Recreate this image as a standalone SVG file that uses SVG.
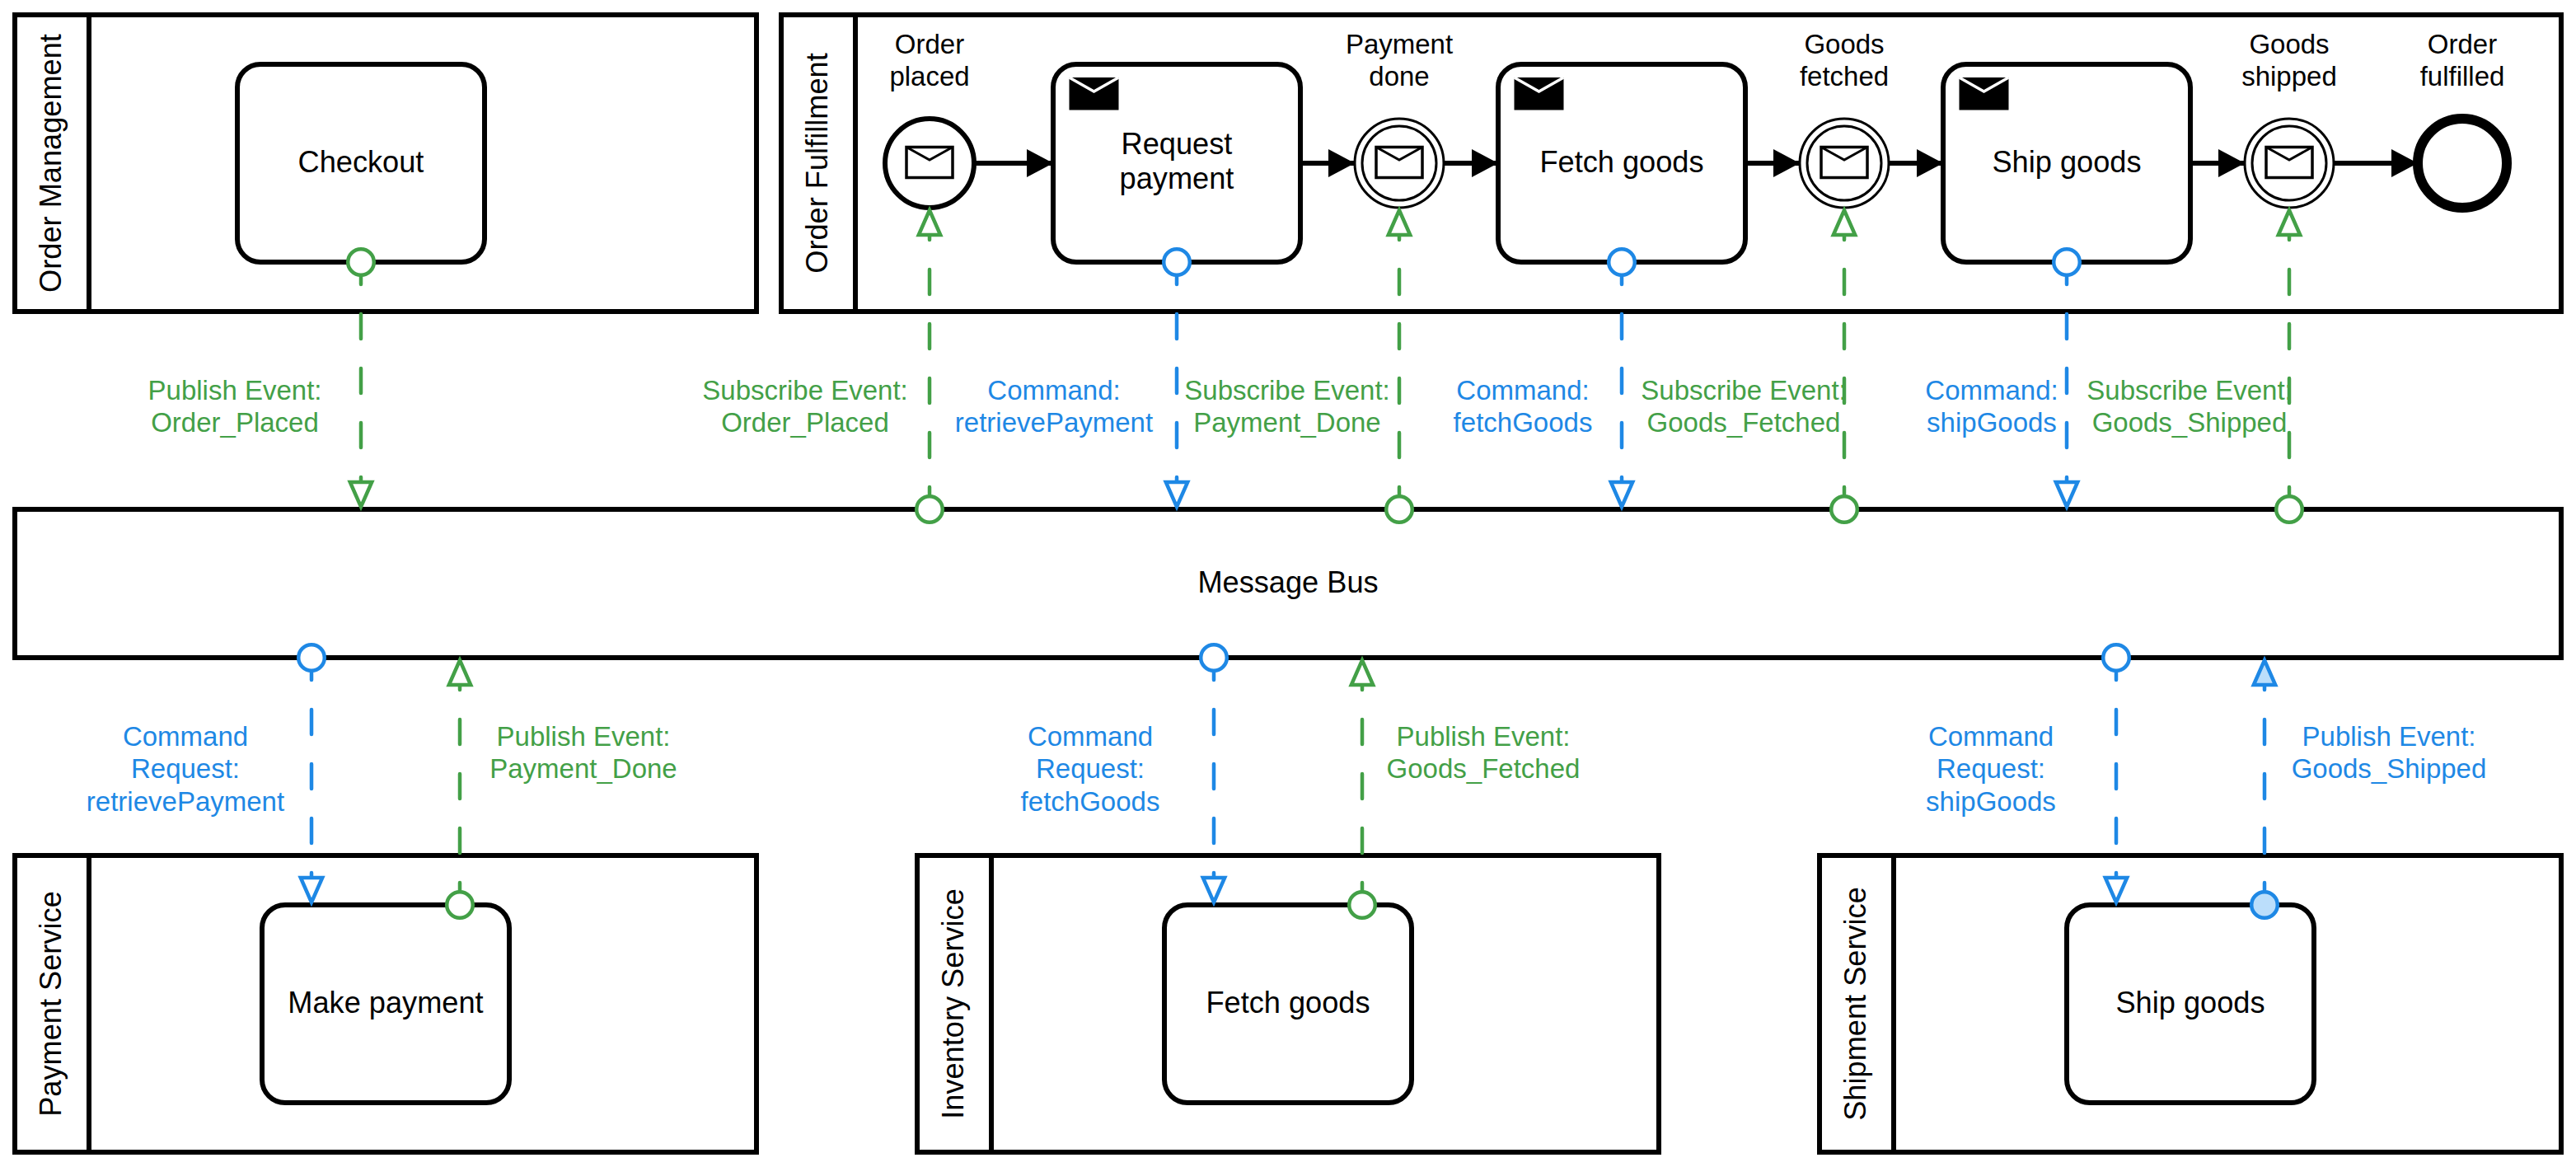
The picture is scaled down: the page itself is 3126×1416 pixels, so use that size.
<svg xmlns="http://www.w3.org/2000/svg" width="3126" height="1416" viewBox="0 0 3126 1416">
<style>
text{font-family:"Liberation Sans",Arial,sans-serif;text-anchor:middle;fill:#000}
.t36{font-size:36.2px}
.t32{font-size:33px}
.g{fill:#43a047}
.b{fill:#1e88e5}
.box{fill:#fff;stroke:#000;stroke-width:6}
.div{fill:none;stroke:#000;stroke-width:6}
.task{fill:#fff;stroke:#000;stroke-width:6}
.ring{fill:#fff;stroke:#000;stroke-width:3}
.flow{fill:none;stroke:#000;stroke-width:6;marker-end:url(#solid)}
.dg,.db{fill:none;stroke-width:4.5;stroke-linecap:round;stroke-dasharray:30 36;stroke-dashoffset:3}
.dg{stroke:#43a047}
.db{stroke:#1e88e5}
</style>
<defs>
<marker id="solid" markerUnits="userSpaceOnUse" markerWidth="40" markerHeight="40" refX="32" refY="17" orient="auto" overflow="visible"><polygon points="0,0 32,17 0,34" fill="#000"/></marker>
<marker id="tri-g" markerUnits="userSpaceOnUse" markerWidth="40" markerHeight="40" refX="0" refY="0" orient="auto" overflow="visible"><polygon points="-30,-13.2 -30,13.2 0,0" fill="#fff" stroke="#43a047" stroke-width="4.5"/></marker>
<marker id="tri-b" markerUnits="userSpaceOnUse" markerWidth="40" markerHeight="40" refX="0" refY="0" orient="auto" overflow="visible"><polygon points="-30,-13.2 -30,13.2 0,0" fill="#fff" stroke="#1e88e5" stroke-width="4.5"/></marker>
<marker id="tri-l" markerUnits="userSpaceOnUse" markerWidth="40" markerHeight="40" refX="0" refY="0" orient="auto" overflow="visible"><polygon points="-30,-13.2 -30,13.2 0,0" fill="#bbdefb" stroke="#1e88e5" stroke-width="4.5"/></marker>
<marker id="dot-g" markerUnits="userSpaceOnUse" markerWidth="40" markerHeight="40" refX="0" refY="0" overflow="visible"><circle r="15.8" fill="#fff" stroke="#43a047" stroke-width="4.5"/></marker>
<marker id="dot-b" markerUnits="userSpaceOnUse" markerWidth="40" markerHeight="40" refX="0" refY="0" overflow="visible"><circle r="15.8" fill="#fff" stroke="#1e88e5" stroke-width="4.5"/></marker>
<marker id="dot-l" markerUnits="userSpaceOnUse" markerWidth="40" markerHeight="40" refX="0" refY="0" overflow="visible"><circle r="15.8" fill="#bbdefb" stroke="#1e88e5" stroke-width="4.5"/></marker>
<g id="env"><rect x="-28" y="-19.5" width="56" height="37" fill="#fff" stroke="#000" stroke-width="3.5"/><path d="M-28,-19.5 L0,-4 L28,-19.5" fill="none" stroke="#000" stroke-width="3"/></g>
<g id="envb"><rect x="-30" y="-20" width="60" height="39.5" fill="#000"/><path d="M-30,-20 L0,-3 L30,-20" fill="none" stroke="#fff" stroke-width="3.5"/></g>
</defs>

<g id="pool-order-management">
<rect class="box" x="18" y="18" width="900" height="360"/><path class="div" d="M108,18V378"/>
<text class="t36" transform="translate(74 198) rotate(-90)">Order Management</text>
</g>
<g id="task-checkout">
<rect class="task" x="288" y="78" width="300" height="240" rx="28"/>
<text class="t36" x="438" y="209">Checkout</text>
</g>
<g id="pool-order-fulfillment">
<rect class="box" x="948" y="18" width="2160" height="360"/><path class="div" d="M1038,18V378"/>
<text class="t36" transform="translate(1004 198) rotate(-90)">Order Fulfillment</text>
</g>
<g id="event-order-placed">
<circle cx="1128" cy="198" r="54" fill="#fff" stroke="#000" stroke-width="6"/>
<use href="#env" x="1128" y="198"/>
<text class="t32" x="1128" y="65">Order</text><text class="t32" x="1128" y="104">placed</text>
</g>
<g id="task-request-payment">
<rect class="task" x="1278" y="78" width="300" height="240" rx="28"/>
<use href="#envb" x="1327.5" y="114"/>
<text class="t36" x="1428" y="187">Request</text><text class="t36" x="1428" y="229">payment</text>
</g>
<g id="event-payment-done">
<circle class="ring" cx="1698" cy="198" r="54"/><circle class="ring" cx="1698" cy="198" r="45"/>
<use href="#env" x="1698" y="198"/>
<text class="t32" x="1698" y="65">Payment</text><text class="t32" x="1698" y="104">done</text>
</g>
<g id="task-fetch-goods">
<rect class="task" x="1818" y="78" width="300" height="240" rx="28"/>
<use href="#envb" x="1867.5" y="114"/>
<text class="t36" x="1968" y="209">Fetch goods</text>
</g>
<g id="event-goods-fetched">
<circle class="ring" cx="2238" cy="198" r="54"/><circle class="ring" cx="2238" cy="198" r="45"/>
<use href="#env" x="2238" y="198"/>
<text class="t32" x="2238" y="65">Goods</text><text class="t32" x="2238" y="104">fetched</text>
</g>
<g id="task-ship-goods">
<rect class="task" x="2358" y="78" width="300" height="240" rx="28"/>
<use href="#envb" x="2407.5" y="114"/>
<text class="t36" x="2508" y="209">Ship goods</text>
</g>
<g id="event-goods-shipped">
<circle class="ring" cx="2778" cy="198" r="54"/><circle class="ring" cx="2778" cy="198" r="45"/>
<use href="#env" x="2778" y="198"/>
<text class="t32" x="2778" y="65">Goods</text><text class="t32" x="2778" y="104">shipped</text>
</g>
<g id="event-order-fulfilled">
<circle cx="2988" cy="198" r="54" fill="#fff" stroke="#000" stroke-width="12"/>
<text class="t32" x="2988" y="65">Order</text><text class="t32" x="2988" y="104">fulfilled</text>
</g>
<g id="message-bus">
<rect class="box" x="18" y="618" width="3090" height="180"/>
<text class="t36" x="1563" y="719">Message Bus</text>
</g>
<g id="pool-payment-service">
<rect class="box" x="18" y="1038" width="900" height="360"/><path class="div" d="M108,1038V1398"/>
<text class="t36" transform="translate(74 1218) rotate(-90)">Payment Service</text>
</g>
<g id="task-make-payment">
<rect class="task" x="318" y="1098" width="300" height="240" rx="28"/>
<text class="t36" x="468" y="1229">Make payment</text>
</g>
<g id="pool-inventory-service">
<rect class="box" x="1113" y="1038" width="900" height="360"/><path class="div" d="M1203,1038V1398"/>
<text class="t36" transform="translate(1169 1218) rotate(-90)">Inventory Service</text>
</g>
<g id="task-inventory-fetch-goods">
<rect class="task" x="1413" y="1098" width="300" height="240" rx="28"/>
<text class="t36" x="1563" y="1229">Fetch goods</text>
</g>
<g id="pool-shipment-service">
<rect class="box" x="2208" y="1038" width="900" height="360"/><path class="div" d="M2298,1038V1398"/>
<text class="t36" transform="translate(2264 1218) rotate(-90)">Shipment Service</text>
</g>
<g id="task-shipment-ship-goods">
<rect class="task" x="2508" y="1098" width="300" height="240" rx="28"/>
<text class="t36" x="2658" y="1229">Ship goods</text>
</g>

<g id="connectors">
<path class="flow" d="M1182,198H1278"/>
<path class="flow" d="M1578,198H1644"/>
<path class="flow" d="M1752,198H1818"/>
<path class="flow" d="M2118,198H2184"/>
<path class="flow" d="M2292,198H2358"/>
<path class="flow" d="M2658,198H2724"/>
<path class="flow" d="M2832,198H2934"/>

<path class="dg" d="M438,318V615" marker-start="url(#dot-g)" marker-end="url(#tri-g)"/>
<path class="dg" d="M1128,618V255" marker-start="url(#dot-g)" marker-end="url(#tri-g)"/>
<path class="db" d="M1428,318V615" marker-start="url(#dot-b)" marker-end="url(#tri-b)"/>
<path class="dg" d="M1698,618V255" marker-start="url(#dot-g)" marker-end="url(#tri-g)"/>
<path class="db" d="M1968,318V615" marker-start="url(#dot-b)" marker-end="url(#tri-b)"/>
<path class="dg" d="M2238,618V255" marker-start="url(#dot-g)" marker-end="url(#tri-g)"/>
<path class="db" d="M2508,318V615" marker-start="url(#dot-b)" marker-end="url(#tri-b)"/>
<path class="dg" d="M2778,618V255" marker-start="url(#dot-g)" marker-end="url(#tri-g)"/>

<path class="db" d="M378,798V1095" marker-start="url(#dot-b)" marker-end="url(#tri-b)"/>
<path class="dg" d="M558,1098V801" marker-start="url(#dot-g)" marker-end="url(#tri-g)"/>
<path class="db" d="M1473,798V1095" marker-start="url(#dot-b)" marker-end="url(#tri-b)"/>
<path class="dg" d="M1653,1098V801" marker-start="url(#dot-g)" marker-end="url(#tri-g)"/>
<path class="db" d="M2568,798V1095" marker-start="url(#dot-b)" marker-end="url(#tri-b)"/>
<path class="db" d="M2748,1098V801" marker-start="url(#dot-l)" marker-end="url(#tri-l)"/>

<g class="t32">
<text class="g" x="285" y="485">Publish Event:</text><text class="g" x="285" y="524">Order_Placed</text>
<text class="g" x="977" y="485">Subscribe Event:</text><text class="g" x="977" y="524">Order_Placed</text>
<text class="b" x="1279" y="485">Command:</text><text class="b" x="1279" y="524">retrievePayment</text>
<text class="g" x="1562" y="485">Subscribe Event:</text><text class="g" x="1562" y="524">Payment_Done</text>
<text class="b" x="1848" y="485">Command:</text><text class="b" x="1848" y="524">fetchGoods</text>
<text class="g" x="2116" y="485">Subscribe Event:</text><text class="g" x="2116" y="524">Goods_Fetched</text>
<text class="b" x="2417" y="485">Command:</text><text class="b" x="2417" y="524">shipGoods</text>
<text class="g" x="2657" y="485">Subscribe Event:</text><text class="g" x="2657" y="524">Goods_Shipped</text>
<text class="b" x="225" y="905">Command</text><text class="b" x="225" y="944">Request:</text><text class="b" x="225" y="984">retrievePayment</text>
<text class="g" x="708" y="905">Publish Event:</text><text class="g" x="708" y="944">Payment_Done</text>
<text class="b" x="1323" y="905">Command</text><text class="b" x="1323" y="944">Request:</text><text class="b" x="1323" y="984">fetchGoods</text>
<text class="g" x="1800" y="905">Publish Event:</text><text class="g" x="1800" y="944">Goods_Fetched</text>
<text class="b" x="2416" y="905">Command</text><text class="b" x="2416" y="944">Request:</text><text class="b" x="2416" y="984">shipGoods</text>
<text class="b" x="2899" y="905">Publish Event:</text><text class="b" x="2899" y="944">Goods_Shipped</text>
</g>
</g>
</svg>
